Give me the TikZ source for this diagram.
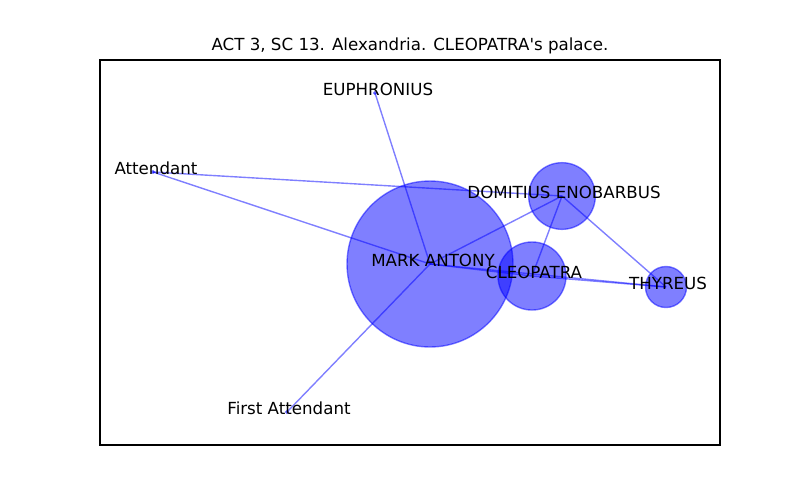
\documentclass[tikz,border=0pt]{standalone}
\usepackage{fontspec}
\setmainfont{DejaVu Sans}
\newfontfamily\mplfont{DejaVu Sans}
\begin{document}
\begin{tikzpicture}[x=0.72pt,y=-0.72pt,
  nodecirc/.style={circle,inner sep=0pt,fill=blue,fill opacity=0.5,draw=blue,draw opacity=0.5,line width=1pt},
  edgeline/.style={draw=blue,draw opacity=0.5,line width=1pt},
  lbl/.style={inner sep=0pt,font=\mplfont\fontsize{12}{14}\selectfont,text=black}]
\useasboundingbox (0,0) rectangle (800,500);
\coordinate (ma) at (430,264);
\coordinate (cl) at (532,276);
\coordinate (de) at (562,196);
\coordinate (th) at (666,287);
\coordinate (eu) at (375,93);
\coordinate (at) at (153,172);
\coordinate (fa) at (287,412);
% edges
\draw[edgeline] (eu) -- (ma);
\draw[edgeline] (at) -- (ma);
\draw[edgeline] (at) -- (de);
\draw[edgeline] (ma) -- (de);
\draw[edgeline] (ma) -- (cl);
\draw[edgeline] (ma) -- (th);
\draw[edgeline] (cl) -- (de);
\draw[edgeline] (cl) -- (th);
\draw[edgeline] (de) -- (th);
\draw[edgeline] (fa) -- (ma);
% nodes
\node[nodecirc,minimum size=119.5pt] (maC) at (ma) {};
\node[nodecirc,minimum size=49pt] (clC) at (cl) {};
\node[nodecirc,minimum size=48pt] (deC) at (de) {};
\node[nodecirc,minimum size=29.5pt] (thC) at (th) {};
\node[nodecirc,minimum size=2.2pt,line width=0.5pt] (euC) at (eu) {};
\node[nodecirc,minimum size=2.2pt,line width=0.5pt] (atC) at (at) {};
\node[nodecirc,minimum size=2.2pt,line width=0.5pt] (faC) at (fa) {};
% labels
\node[lbl] (maL) at (433,260) {MARK ANTONY};
\node[lbl] (clL) at (534,272) {CLEOPATRA};
\node[lbl] (deL) at (564,192) {DOMITIUS ENOBARBUS};
\node[lbl] (thL) at (668,283) {THYREUS};
\node[lbl] (euL) at (378,89) {EUPHRONIUS};
\node[lbl] (atL) at (156,168) {Attendant};
\node[lbl] (faL) at (289,408) {First Attendant};
% frame and title
\draw[line width=0.8pt,black] (100,60) rectangle (720,445);
\node[lbl] (title) at (410,46) {ACT 3, SC 13. Alexandria. CLEOPATRA's palace.};
\end{tikzpicture}
\end{document}
